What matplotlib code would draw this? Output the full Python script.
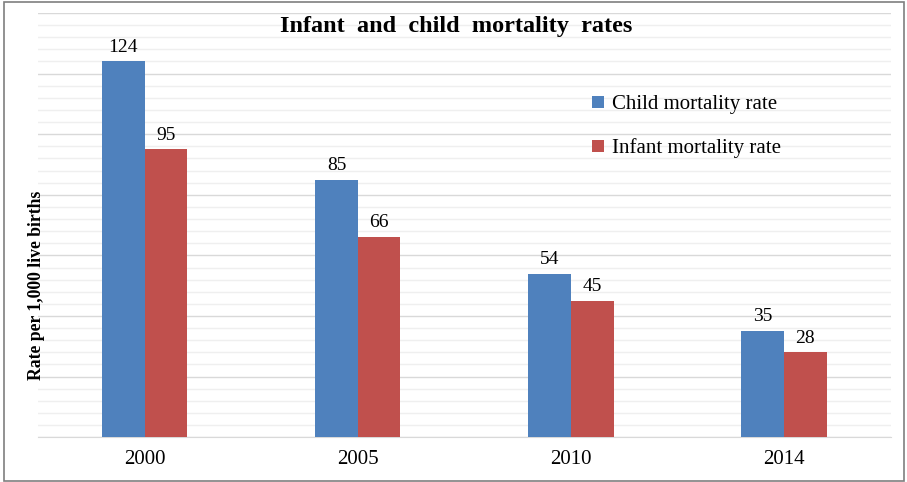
import matplotlib
matplotlib.use('Agg')
import matplotlib.pyplot as plt
from matplotlib.patches import Rectangle
from matplotlib.ticker import MultipleLocator
import numpy as np

# Data
years = ['2000', '2005', '2010', '2014']
child_rate = [124, 85, 54, 35]
infant_rate = [95, 66, 45, 28]

blue = '#4F81BD'
red = '#C0504D'
serif = ['Liberation Serif', 'DejaVu Serif']

fig = plt.figure(figsize=(9.07, 4.82), dpi=100)
ax = fig.add_axes([0.042, 0.093, 0.940, 0.880])

x = np.arange(len(years))
w = 0.2
b1 = ax.bar(x - w / 2, child_rate, w, color=blue, label='Child mortality rate', zorder=3)
b2 = ax.bar(x + w / 2, infant_rate, w, color=red, label='Infant mortality rate', zorder=3)

for bars, vals in [(b1, child_rate), (b2, infant_rate)]:
    for rect, v in zip(bars, vals):
        ax.text(rect.get_x() + rect.get_width() / 2, v + 1.9, str(v),
                ha='center', va='bottom', fontsize=14, family=serif)

ax.set_xlim(-0.5, 3.5)
ax.set_ylim(0, 140)
ax.yaxis.set_major_locator(MultipleLocator(20))
ax.yaxis.set_minor_locator(MultipleLocator(4))
ax.grid(axis='y', which='major', color='#D9D9D9', linewidth=1, zorder=0)
ax.grid(axis='y', which='minor', color='#EFEFEF', linewidth=1, zorder=0)
ax.set_axisbelow(True)

ax.set_xticks(x)
ax.set_xticklabels(years, fontsize=15, family=serif)
ax.tick_params(axis='x', length=0, pad=9)
ax.tick_params(axis='y', which='both', length=0, labelleft=False)

for s in ['top', 'right', 'left']:
    ax.spines[s].set_visible(False)
ax.spines['bottom'].set_color('#D9D9D9')

# y label sits below the vertical centre in the original
fig.text(0.040, 0.407, 'Rate per 1,000 live births', rotation=90, ha='center', va='center',
         fontsize=12.7, fontweight='bold', family=serif)

fig.text(0.503, 0.944, 'Infant  and  child  mortality  rates', ha='center', va='center',
         fontsize=17.5, fontweight='bold', family=serif)

ax.legend(loc='upper left', bbox_to_anchor=(0.628, 0.850), frameon=False,
          prop={'family': serif, 'size': 15}, handlelength=0.55, handleheight=0.55,
          handletextpad=0.4, labelspacing=1.15)

fig.patches.append(Rectangle((0.004, 0.003), 0.993, 0.993, transform=fig.transFigure,
                             fill=False, edgecolor='#7F7F7F', linewidth=1.2))

fig.savefig('out.png', dpi=100)
